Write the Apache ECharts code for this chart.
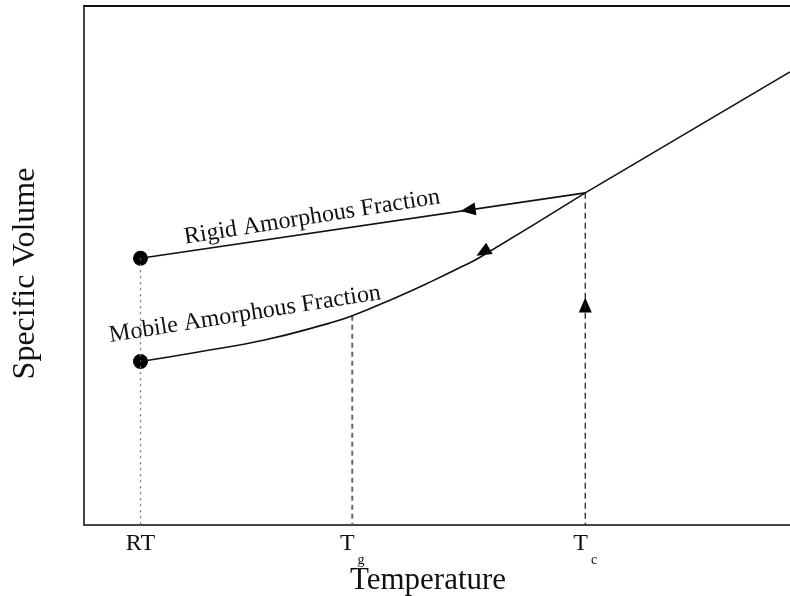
<!DOCTYPE html>
<html>
<head>
<meta charset="utf-8">
<title>Specific Volume vs Temperature</title>
<script src="https://cdn.jsdelivr.net/npm/echarts@6/dist/echarts.min.js"></script>
<style>
  html, body { margin: 0; padding: 0; background: #fff; }
  #chart { width: 790px; height: 596px; }
</style>
</head>
<body>
<div id="chart"></div>
<script>
// Temperature tick positions (arbitrary units) and their labels
const tickPositions = [8, 38, 71];
const tickNames = ['RT', 'Tg', 'Tc'];

// Melt / liquid line above the crystallization temperature
const meltX = [71, 100];
const meltY = [64.0, 87.3];

// Rigid amorphous fraction: straight cooling path from Tc to RT
const rigidX = [8, 71];
const rigidY = [51.4, 64.0];

// Mobile amorphous fraction: curved cooling path through Tg
const mobileX = [8, 16.0, 25.4, 34.8, 38.0, 44.3, 49.0, 53.7, 56.1, 71];
const mobileY = [31.5, 33.3, 35.6, 38.9, 40.3, 43.9, 46.8, 49.9, 51.6, 64.0];

// Guide lines dropped to the temperature axis
const tcGuideY = [64.0, 0];
const tgGuideY = [40.3, 0];
const rtGuideY = [51.4, 0];

// End-point markers at room temperature
const endPointsX = [8, 8];
const endPointsY = [51.4, 31.5];

// Direction arrows: x, y, rotation (degrees)
const arrowX = [54.4, 56.5, 71];
const arrowY = [60.7, 52.6, 42.4];
const arrowRot = [98, 120, 0];

// Path labels: text, x, y, angle
const pathLabels = ['Rigid Amorphous Fraction', 'Mobile Amorphous Fraction'];
const pathLabelX = [32.3, 22.8];
const pathLabelY = [59.3, 40.6];
const pathLabelAngle = [9, 9];

const serif = '"Liberation Serif", "DejaVu Serif", serif';
const ink = '#111';

const zip = (xs, ys) => xs.map((x, i) => [x, ys[i]]);

const chart = echarts.init(document.getElementById('chart'), null, { renderer: 'canvas' });

chart.setOption({
  animation: false,
  backgroundColor: '#fff',
  grid: { left: 84, right: 0, top: 6, bottom: 71, containLabel: false, outerBoundsMode: 'none' },
  xAxis: [
    {
      type: 'value', min: 0, max: 100,
      name: 'Temperature', nameLocation: 'middle', nameGap: 40, nameMoveOverlap: false,
      nameTextStyle: { fontFamily: serif, fontSize: 31, color: ink, padding: [0, 18, 0, 0] },
      axisLine: { show: true, onZero: false, lineStyle: { color: '#444', width: 2 } },
      axisTick: { show: false },
      splitLine: { show: false },
      axisLabel: {
        customValues: tickPositions,
        margin: 7,
        formatter: function (v) {
          const name = tickNames[tickPositions.indexOf(v)] || '';
          if (name.length === 2 && name[0] === 'T') {
            return '{m|T}{s|' + name[1] + '}';
          }
          return '{m|' + name + '}';
        },
        rich: {
          m: { fontFamily: serif, fontSize: 24, color: ink, padding: [0, 0, 14, 0] },
          s: { fontFamily: serif, fontSize: 14, color: ink, padding: [18, 0, 0, 3] }
        }
      }
    },
    {
      type: 'value', min: 0, max: 100, position: 'top',
      axisLine: { show: true, onZero: false, lineStyle: { color: '#111', width: 2 } },
      axisTick: { show: false }, axisLabel: { show: false }, splitLine: { show: false }
    }
  ],
  yAxis: {
    type: 'value', min: 0, max: 100,
    name: 'Specific Volume', nameLocation: 'middle', nameGap: 42, nameRotate: 90, nameMoveOverlap: false,
    nameTextStyle: { fontFamily: serif, fontSize: 32, color: ink, padding: [0, 16, 0, 0] },
    axisLine: { show: true, onZero: false, lineStyle: { color: '#444', width: 2 } },
    axisTick: { show: false }, axisLabel: { show: false }, splitLine: { show: false }
  },
  series: [
    {
      type: 'line', name: 'Tc guide', showSymbol: false, silent: true,
      data: zip([71, 71], tcGuideY),
      lineStyle: { color: '#222', width: 1.3, type: [6, 4] }
    },
    {
      type: 'line', name: 'Tg guide', showSymbol: false, silent: true,
      data: zip([38, 38], tgGuideY),
      lineStyle: { color: '#666', width: 2, type: [5, 4] }
    },
    {
      type: 'line', name: 'RT guide', showSymbol: false, silent: true,
      data: zip([8, 8], rtGuideY),
      lineStyle: { color: '#777', width: 1.3, type: [2, 4] }
    },
    {
      type: 'line', name: 'Melt', showSymbol: false,
      data: zip(meltX, meltY),
      lineStyle: { color: ink, width: 1.6 }
    },
    {
      type: 'line', name: 'Rigid Amorphous Fraction', showSymbol: false,
      data: zip(rigidX, rigidY),
      lineStyle: { color: ink, width: 1.6 }
    },
    {
      type: 'line', name: 'Mobile Amorphous Fraction', showSymbol: false, smooth: 0.5,
      data: zip(mobileX, mobileY),
      lineStyle: { color: ink, width: 1.6 }
    },
    {
      type: 'scatter', name: 'End points', symbol: 'circle', symbolSize: 15,
      itemStyle: { color: '#000', opacity: 1 },
      data: zip(endPointsX, endPointsY)
    },
    {
      type: 'scatter', name: 'Arrows', symbol: 'triangle', symbolSize: [13, 15],
      itemStyle: { color: '#000', opacity: 1 },
      data: arrowX.map((x, i) => ({ value: [x, arrowY[i]], symbolRotate: arrowRot[i] }))
    },
    {
      type: 'scatter', name: 'Path labels', symbolSize: 0, silent: true,
      itemStyle: { opacity: 1 },
      data: pathLabels.map((t, i) => ({
        value: [pathLabelX[i], pathLabelY[i]],
        label: {
          show: true, position: 'inside', formatter: t, rotate: pathLabelAngle[i],
          fontFamily: serif, fontSize: 24, color: ink
        }
      }))
    }
  ]
});
</script>
</body>
</html>
